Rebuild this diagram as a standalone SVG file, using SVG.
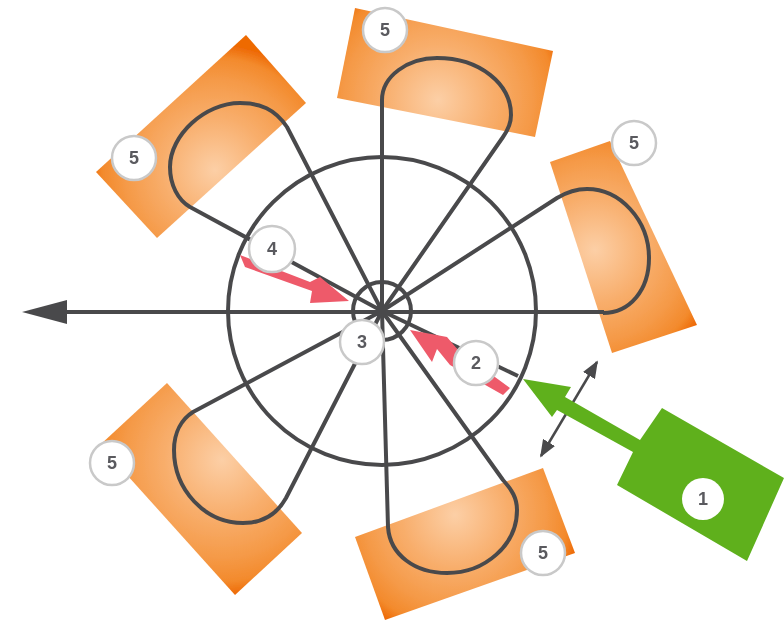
<svg xmlns="http://www.w3.org/2000/svg" width="784" height="621" viewBox="0 0 784 621">
<style>
.ln{fill:none;stroke:#4a4a4c;stroke-width:4;stroke-linejoin:round}
.thin{fill:none;stroke:#4a4a4c;stroke-width:2.5}
.bd{fill:#fff;stroke:#c9c9c9;stroke-width:2.5}
.red{fill:#ee5a6a}
.t{font-family:"Liberation Sans",Arial,sans-serif;font-size:18px;font-weight:bold;fill:#5a5a5e;text-anchor:middle}
</style>
<defs>
<radialGradient id="og"><stop offset="0" stop-color="#fccfa6"/><stop offset="0.42" stop-color="#f8ae6c"/><stop offset="0.72" stop-color="#f59a48"/><stop offset="0.9" stop-color="#f38a2c"/><stop offset="1" stop-color="#ee6a06"/></radialGradient>
<radialGradient id="g1" href="#og" gradientUnits="userSpaceOnUse" cx="438" cy="100" r="130"/>
<radialGradient id="g2" href="#og" gradientUnits="userSpaceOnUse" cx="215" cy="170" r="125"/>
<radialGradient id="g3" href="#og" gradientUnits="userSpaceOnUse" cx="595" cy="250" r="125"/>
<radialGradient id="g4" href="#og" gradientUnits="userSpaceOnUse" cx="455" cy="515" r="125"/>
<radialGradient id="g5" href="#og" gradientUnits="userSpaceOnUse" cx="222" cy="460" r="135"/>
<filter id="soft" x="-5%" y="-5%" width="110%" height="110%"><feGaussianBlur stdDeviation="0.7"/></filter>
<marker id="dh" viewBox="0 0 10 8" refX="9" refY="4" markerWidth="7" markerHeight="5.6" orient="auto-start-reverse" markerUnits="strokeWidth"><path d="M0 0L10 4L0 8Z" fill="#4a4a4c"/></marker>
</defs>
<rect width="784" height="621" fill="#fff"/>
<g filter="url(#soft)">
<g id="pad-top"><polygon fill="url(#g1)" points="355,8 553,51 535,137 337,98"/></g>
<g id="pad-top-left"><polygon fill="url(#g2)" points="246,35 306,103 157,238 96,172"/></g>
<g id="pad-right"><polygon fill="url(#g3)" points="550,162 610,141 697,325 612,353"/></g>
<g id="pad-bottom-right"><polygon fill="url(#g4)" points="355,537 543,468 575,553 385,620"/></g>
<g id="pad-bottom-left"><polygon fill="url(#g5)" points="167,383 302,533 235,595 100,445"/></g>
<g id="connectors">
<circle class="ln" cx="382" cy="311" r="154"/>
<circle class="ln" cx="382" cy="311" r="29"/>
<path class="ln" d="M64 312H604"/>
<polygon points="22,312 67,300 67,324" fill="#4a4a4c"/>
<path class="ln" d="M382 311V100C382 76 408 58 437 58C480 58 511 84 511 115C511 124 508 130 503 137L382 311"/>
<path class="ln" d="M382 311L557 198C567 192 575 189 587 189C620 189 649 220 649 258C649 290 630 313 603 313"/>
<path class="ln" d="M382 311L287 127C275 109 260 103 240 103C205 103 170 135 170 167C170 185 178 200 190 207L382 311"/>
<path class="ln" d="M382 311L286 498C276 516 262 523 243 523C205 523 174 490 174 450C174 432 182 419 193 412L382 311"/>
<path class="ln" d="M382 311L388 527C390 555 415 573 447 573C485 573 517 545 517 510C517 498 512 490 503 480L382 311"/>
<path class="ln" d="M382 311L518 376"/>
<path class="thin" d="M597 362L541 456" marker-start="url(#dh)" marker-end="url(#dh)"/>
<polygon class="red" points="240,255 310,282 320,277 349,301 310,303 312,291 245,267"/>
<polygon class="red" points="410,330 447,337 458,350 510,388 503,395 450,365 437,349 432,362"/>
</g>
<g id="node-1">
<polygon points="523,379 571,387 565,397 640,440 662,408 784,478 747,561 617,485 633,452 557,410 552,417" fill="#5fb01f"/>
<circle cx="703" cy="499" r="21" fill="#fff"/><text class="t" x="703" y="505">1</text></g>
<g id="node-2"><circle class="bd" cx="476" cy="363" r="22"/><text class="t" x="476" y="369">2</text></g>
<g id="node-3"><circle class="bd" cx="362" cy="342" r="22"/><text class="t" x="362" y="348">3</text></g>
<g id="node-4"><circle class="bd" cx="272" cy="249" r="23"/><text class="t" x="272" y="255">4</text></g>
<g id="node-5a"><circle class="bd" cx="385" cy="30" r="22"/><text class="t" x="385" y="36">5</text></g>
<g id="node-5b"><circle class="bd" cx="134" cy="158" r="22"/><text class="t" x="134" y="164">5</text></g>
<g id="node-5c"><circle class="bd" cx="634" cy="143" r="22"/><text class="t" x="634" y="149">5</text></g>
<g id="node-5d"><circle class="bd" cx="112" cy="463" r="22"/><text class="t" x="112" y="469">5</text></g>
<g id="node-5e"><circle class="bd" cx="543" cy="553" r="22"/><text class="t" x="543" y="559">5</text></g>
</g>
</svg>
